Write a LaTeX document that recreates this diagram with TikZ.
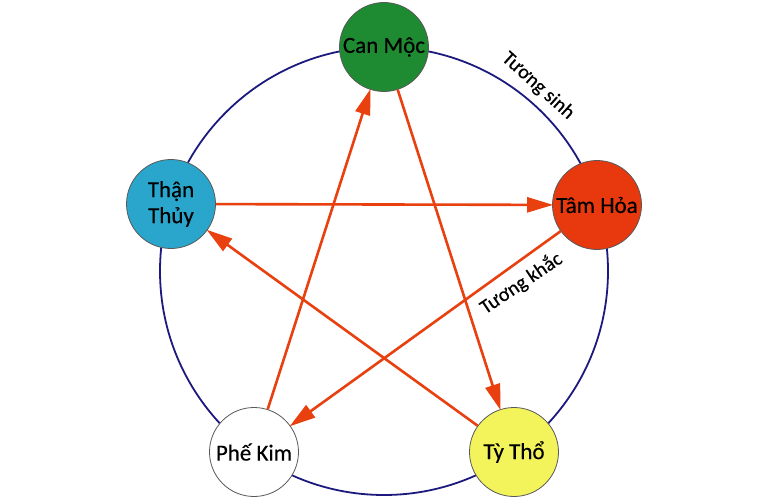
\documentclass[tikz,border=0pt]{standalone}
\usepackage{fontspec}
\setmainfont{Carlito}[FakeBold=0.4]
\usetikzlibrary{arrows.meta}
\definecolor{navy}{HTML}{1C1A7E}
\definecolor{redline}{HTML}{E8400F}
\definecolor{mocgreen}{HTML}{1E8B32}
\definecolor{hoared}{HTML}{E8380E}
\definecolor{thuyblue}{HTML}{2AA6CC}
\definecolor{thoyellow}{HTML}{F3F35C}
\begin{document}
\begin{tikzpicture}[x=1pt,y=-1pt,
  element/.style={circle,draw=black!65,line width=0.8pt,minimum size=89pt,inner sep=0pt,
    align=center,font=\fontsize{23}{26}\selectfont,text=black},
  khac/.style={draw=redline,line width=2.6pt,-{Triangle[length=26pt,width=15pt]},shorten >=-1pt},
  lbl/.style={font=\fontsize{20}{22}\selectfont,text=black,inner sep=0pt}]
\useasboundingbox (0,0) rectangle (768,500);
\fill[white] (0,0) rectangle (768,500);
\draw[navy,line width=1.8pt] (384,271) circle (224);
\node[element,fill=mocgreen] (moc) at (384,47) {Can Mộc};
\node[element,fill=hoared] (hoa) at (597,205) {Tâm Hỏa};
\node[element,fill=thuyblue] (thuy) at (171,204) {Thận\\Thủy};
\node[element,fill=white] (kim) at (254,452) {Phế Kim};
\node[element,fill=thoyellow] (tho) at (514,452) {Tỳ Thổ};
\draw[khac] (thuy) -- (hoa);
\draw[khac] (hoa) -- (kim);
\draw[khac] (kim) -- (moc);
\draw[khac] (moc) -- (tho);
\draw[khac] (tho) -- (thuy);
\node[lbl,rotate=-42] (sinh) at (538,86) {Tương sinh};
\node[lbl,rotate=34] (khaclbl) at (521,283) {Tương khắc};
\end{tikzpicture}
\end{document}
